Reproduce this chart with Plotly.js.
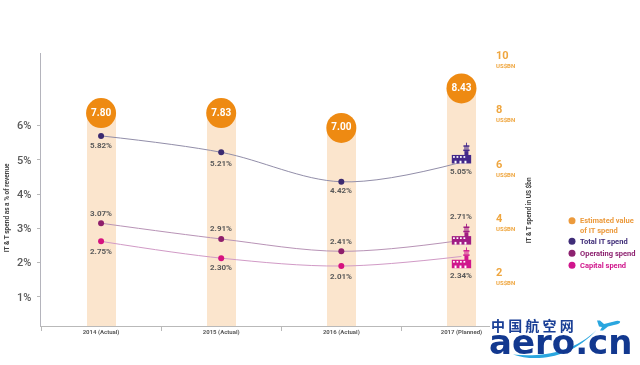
<!DOCTYPE html>
<html>
<head>
<meta charset="utf-8">
<script src="https://cdn.plot.ly/plotly-3.0.1.min.js"></script>
<style>html,body{margin:0;padding:0;background:#fff}#chart{width:640px;height:365px;filter:blur(0.4px)}</style>
</head>
<body>
<div id="chart"></div>
<script>
// ---- data ----
const categories = ['2014 (Actual)', '2015 (Actual)', '2016 (Actual)', '2017 (Planned)'];
const spendHeights = [8.09, 8.09, 7.54, 9.0];
const spendLabels = ['7.80', '7.83', '7.00', '8.43'];
const totalValues = [5.70, 5.22, 4.36, 4.93];
const totalLabels = ['5.82%', '5.21%', '4.42%', '5.05%'];
const operatingValues = [3.15, 2.69, 2.33, 2.65];
const operatingLabels = ['3.07%', '2.91%', '2.41%', '2.71%'];
const capitalValues = [2.62, 2.13, 1.90, 2.18];
const capitalLabels = ['2.75%', '2.30%', '2.01%', '2.34%'];
const pctTicks = [1, 2, 3, 4, 5, 6];
const usdTicks = [2, 4, 6, 8, 10];
const legendNames = ['Estimated value<br>of IT spend', 'Total IT spend', 'Operating spend', 'Capital spend'];
const legendColors = ['#ec9a3c', '#3f2d78', '#8d2270', '#d0168c'];

// ---- frame ----
const L = 41, R = 490, T = 53, B = 325.6;
const px = x => (x - L) / (R - L);
const py = y => (B - y) / (B - T);
const FONT = 'Roboto, sans-serif';
const GREY = '#5a5a5a';
const xs = categories.map((_, i) => i);

function icon(c) {
  const svg = `<svg xmlns="http://www.w3.org/2000/svg" viewBox="0 0 20 22">
<rect x="14.6" y="0" width="0.9" height="4" fill="${c}"/>
<rect x="12" y="3" width="6" height="1.6" fill="${c}"/>
<rect x="12.6" y="4.6" width="4.8" height="3" fill="${c}" opacity="0.55"/>
<rect x="11.8" y="7.4" width="6.4" height="1.6" fill="${c}"/>
<rect x="13" y="9" width="4" height="5" fill="${c}"/>
<rect x="0" y="13" width="20" height="9" fill="${c}"/>
<g fill="#fff"><rect x="1.5" y="14.2" width="1.8" height="1.8"/><rect x="5" y="14.2" width="1.8" height="1.8"/><rect x="8.5" y="14.2" width="1.8" height="1.8"/><rect x="12" y="14.2" width="1.8" height="1.8"/>
<rect x="3" y="19" width="2" height="3"/><rect x="8" y="19" width="2" height="3"/><rect x="13" y="19" width="2" height="3"/></g></svg>`;
  return 'data:image/svg+xml;utf8,' + encodeURIComponent(svg);
}
const swoosh = 'data:image/svg+xml;utf8,' + encodeURIComponent(
`<svg xmlns="http://www.w3.org/2000/svg" viewBox="0 0 150 50">
<path d="M27 39 C50 47 85 43 111 14 C88 37 55 42 27 39Z" fill="#2aa6df"/>
<path d="M111 5 L114 5 L118 8.5 L130 5.5 Q135 5 134 7 Q133 8.5 128 9.5 L122 11 L117 15 L114 15 L116 11.5 L113 11Z" fill="#2aa6df"/></svg>`);

const lineTrace = (y, line, dot) => ({
  x: xs, y, yaxis: 'y2', mode: 'lines+markers', type: 'scatter',
  line: {color: line, width: 1, shape: 'spline'},
  marker: {color: dot, size: 6, opacity: xs.map(i => i === 3 ? 0 : 1)}, hoverinfo: 'skip', showlegend: false
});

const traces = [
  {x: xs, y: spendHeights, type: 'bar', width: 0.242, marker: {color: '#fbe5cd'}, hoverinfo: 'skip', showlegend: false},
  {x: xs, y: spendHeights, mode: 'markers+text', type: 'scatter', text: spendLabels, textposition: 'middle center',
   textfont: {family: FONT, size: 10, color: '#fff', weight: 700},
   marker: {color: '#ee8a12', size: 30}, hoverinfo: 'skip', showlegend: false},
  lineTrace(totalValues, '#928ea9', '#3b2a70'),
  lineTrace(operatingValues, '#b893b6', '#8e1f6b'),
  lineTrace(capitalValues, '#d19ac6', '#d6127f')
];

const annotations = [];
function dataLabels(labels, values, shifts) {
  labels.forEach((t, i) => annotations.push({
    x: i, y: values[i], xref: 'x', yref: 'y2', text: t, showarrow: false, yshift: shifts[i],
    font: {family: FONT, size: 8, color: GREY, weight: 700}
  }));
}
dataLabels(totalLabels, totalValues, [-10, -11, -9, -9]);
dataLabels(operatingLabels, operatingValues, [10, 10, 9.5, 24]);
dataLabels(capitalLabels, capitalValues, [-10, -9, -10, -19]);

const axisTitle = (text, x, y) => ({
  text, x: px(x), y: py(y), xref: 'paper', yref: 'paper', showarrow: false, textangle: -90,
  xanchor: 'center', yanchor: 'middle',
  font: {family: FONT, size: 6.5, color: '#444', weight: 700}
});
annotations.push(axisTitle('IT & T spend as a % of revenue', 7, 208));
annotations.push(axisTitle('IT & T spend in US $bn', 529, 210));

const shapes = [];
const legendY = [225, 241, 253, 265];
const legendDotY = [220.5, 241, 253, 265];
legendNames.forEach((t, i) => {
  shapes.push({type: 'circle', xref: 'paper', yref: 'paper', fillcolor: legendColors[i], line: {width: 0},
    x0: px(568.5), x1: px(575.5), y0: py(legendDotY[i] + 3.5), y1: py(legendDotY[i] - 3.5)});
  annotations.push({text: t, x: px(577.5), y: py(legendY[i]), xref: 'paper', yref: 'paper', showarrow: false,
    xanchor: 'left', yanchor: 'middle', align: 'left', font: {family: FONT, size: 7.5, color: legendColors[i], weight: 700}});
});

// watermark text
annotations.push({text: '中 国 航 空 网', x: px(532), y: py(325), xref: 'paper', yref: 'paper', showarrow: false,
  xanchor: 'center', yanchor: 'middle',
  font: {family: '"Noto Sans CJK SC"', size: 14, color: '#1a3f96', weight: 700}});
annotations.push({text: 'aero.cn', x: px(560.5), y: py(342), xref: 'paper', yref: 'paper', showarrow: false,
  xanchor: 'center', yanchor: 'middle',
  font: {family: '"DejaVu Sans"', size: 34, color: '#12388f', weight: 700}});

const iconColors = ['#43288a', '#a01c84', '#d0168c'];
const iconValues = [totalValues[3], operatingValues[3], capitalValues[3]];
const iconLift = [0.27, 0.18, -0.04];
const images = iconColors.map((c, i) => ({
  source: icon(c), xref: 'x', yref: 'y2', x: 3, y: iconValues[i] + iconLift[i],
  sizex: 0.165, sizey: 0.62, sizing: 'stretch', xanchor: 'center', yanchor: 'middle', layer: 'above'
}));
images.push({source: swoosh, xref: 'paper', yref: 'paper', x: px(486), y: py(315), sizex: 150 / (R - L), sizey: 50 / (B - T),
  sizing: 'stretch', xanchor: 'left', yanchor: 'top', layer: 'above'});

const layout = {
  width: 640, height: 365, paper_bgcolor: '#fff', plot_bgcolor: '#fff',
  margin: {l: L, r: 640 - R, t: T, b: 365 - B},
  showlegend: false, bargap: 0,
  xaxis: {
    range: [-0.5, 3.2375], tickmode: 'array', tickvals: xs, ticktext: categories, ticks: '',
    tickfont: {family: FONT, size: 6, color: GREY, weight: 700}, showgrid: false, zeroline: false,
    showline: true, linecolor: '#b9b9b9', linewidth: 1.2,
    minor: {tickmode: 'array', tickvals: [-0.5, 0.5, 1.5, 2.5], ticks: 'outside', ticklen: 4, tickcolor: '#b9b9b9', showgrid: false}
  },
  yaxis: {
    side: 'right', range: [0.22, 10.31], tickmode: 'array', tickvals: usdTicks,
    ticktext: usdTicks.map(v => '<span style="font-size:11px">' + v + '</span><br><span style="font-size:6px">US$BN</span>'),
    tickfont: {family: FONT, size: 7, color: '#efa63f', weight: 700},
    ticks: '', showgrid: false, zeroline: false, showline: false, ticklabelstandoff: 5
  },
  yaxis2: {
    overlaying: 'y', side: 'left', anchor: 'x', range: [0.149, 8.12], tickmode: 'array', tickvals: pctTicks,
    ticktext: pctTicks.map(v => v + '%'), ticks: 'outside', ticklen: 3, tickcolor: '#b9b9b9',
    tickfont: {family: FONT, size: 11, color: GREY, weight: 500},
    showgrid: false, zeroline: false, showline: true, linecolor: '#b4b4bc', linewidth: 1.5, ticklabelstandoff: 3
  },
  annotations, shapes, images
};
Plotly.newPlot('chart', traces, layout, {displayModeBar: false, staticPlot: true});
</script>
</body>
</html>
